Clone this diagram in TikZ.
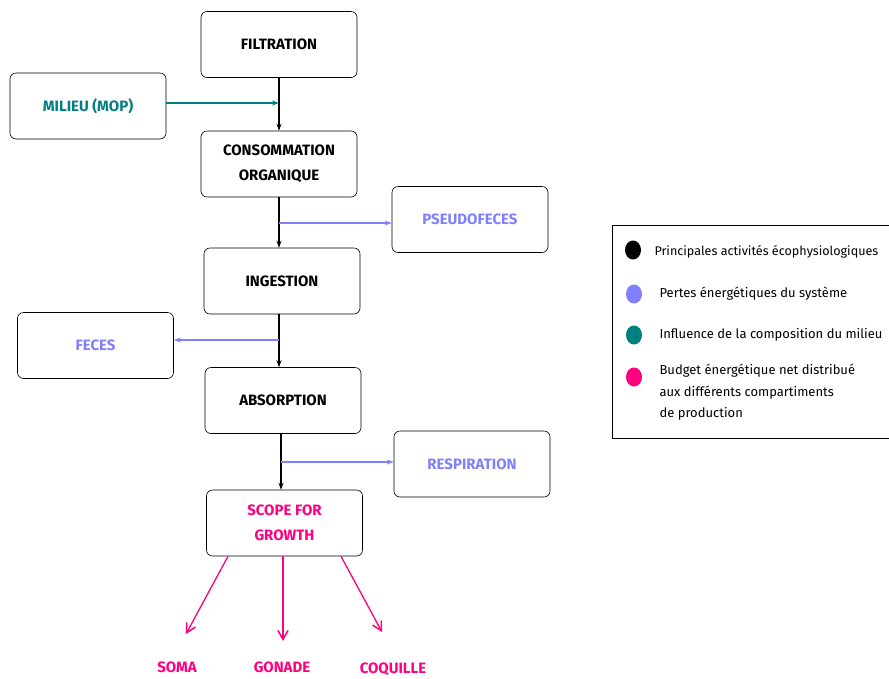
\documentclass[tikz,border=0pt]{standalone}
\usepackage{fontspec}
\setmainfont{Fira Sans}
\usetikzlibrary{arrows.meta,shapes.geometric}
\definecolor{teal2}{RGB}{0,128,128}
\definecolor{loss}{RGB}{128,128,255}
\definecolor{budget}{RGB}{255,0,128}
\tikzset{
  box/.style={draw, rounded corners=6pt, minimum width=156pt, minimum height=66pt, align=center, font=\fontsize{15}{25.5}\selectfont\bfseries, line width=0.6pt},
  flow/.style={draw=black, line width=1.2pt, -{Stealth[length=7pt,width=5pt]}},
  lossarrow/.style={draw=loss, line width=1.3pt, -{Stealth[length=7pt,width=5pt]}},
  milarrow/.style={draw=teal2, line width=1.5pt, -{Stealth[length=7pt,width=5pt]}},
  budarrow/.style={draw=budget, line width=1.3pt, -{Straight Barb[length=9pt,width=10pt,line width=1.5pt]}},
  outlabel/.style={text=budget, font=\fontsize{15}{16}\selectfont\bfseries},
  legtext/.style={anchor=west, align=left, font=\fontsize{13}{21.5}\selectfont},
  dot/.style={ellipse, minimum width=16pt, minimum height=19pt, inner sep=0pt}
}
\begin{document}
\begin{tikzpicture}[x=1pt,y=-1pt]
\clip (0,0) rectangle (889,678);
\fill[white] (0,0) rectangle (889,678);
% boxes
\node[box] (filt) at (279,44.5) {FILTRATION};
\node[box, text=teal2] (milieu) at (88,106) {MILIEU (MOP)};
\node[box] (conso) at (279,164) {CONSOMMATION\\ORGANIQUE};
\node[box, text=loss] (pseudo) at (470,219.5) {PSEUDOFECES};
\node[box] (inges) at (282,281) {INGESTION};
\node[box, text=loss] (feces) at (95.5,345.5) {FECES};
\node[box] (absorp) at (283,400.5) {ABSORPTION};
\node[box, text=loss] (resp) at (472,464) {RESPIRATION};
\node[box, text=budget] (scope) at (284.5,523) {SCOPE FOR\\GROWTH};
% main flow
\coordinate (cm) at (279,103);
\coordinate (c1) at (279,223);
\coordinate (c2) at (279,340);
\coordinate (c3) at (281,462);
\draw[flow] (filt.south) -- (conso.north);
\draw[milarrow] (milieu.east |- cm) -- (cm);
\draw[flow] (conso.south) -- (conso.south |- inges.north);
\draw[lossarrow] (c1) -- (pseudo.west |- c1);
\draw[flow] (inges.south -| conso.south) -- (conso.south |- absorp.north);
\draw[lossarrow] (c2) -- (feces.east |- c2);
\draw[flow] (absorp.south -| c3) -- (c3 |- scope.north);
\draw[lossarrow] (c3) -- (resp.west |- c3);
% outputs
\node[outlabel] (soma) at (177,667) {SOMA};
\node[outlabel] (gonade) at (282,667) {GONADE};
\node[outlabel] (coq) at (393,669) {COQUILLE};
\coordinate (e1) at (186,634);
\coordinate (e2) at (283,641);
\coordinate (e3) at (382,632);
\draw[budarrow] (scope.south -| 228,0) -- (e1);
\draw[budarrow] (scope.south -| 283,0) -- (e2);
\draw[budarrow] (scope.south -| 341,0) -- (e3);
% legend
\node[draw, line width=0.6pt, minimum width=290pt, minimum height=213pt, anchor=north west] (legend) at (611.5,224.5) {};
\node[dot, fill=black] (d1) at (633,250) {};
\node[dot, fill=loss] (d2) at (634,294) {};
\node[dot, fill=teal2] (d3) at (634,335) {};
\node[dot, fill=budget] (d4) at (634,377) {};
\node[legtext, font=\fontsize{12.6}{21.5}\selectfont] (t1) at (651,252) {Principales activités écophysiologiques};
\node[legtext] (t2) at (656,294) {Pertes énergétiques du système};
\node[legtext] (t3) at (656,335) {Influence de la composition du milieu};
\node[legtext, anchor=north west] (t4) at (656,361) {Budget énergétique net distribué\\aux différents compartiments\\de production};
\end{tikzpicture}
\end{document}
